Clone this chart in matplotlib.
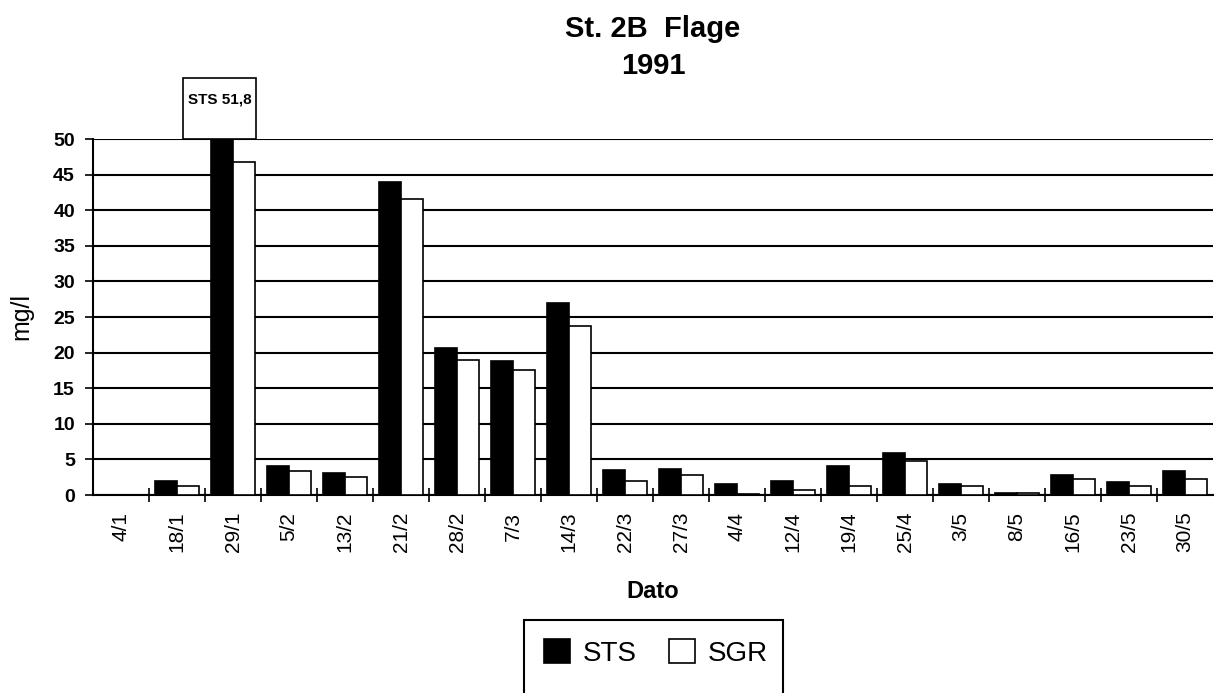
import matplotlib.pyplot as plt
import matplotlib.patches as mpatches
import numpy as np

plt.rcParams['font.family'] = ['Liberation Sans', 'DejaVu Sans']

dates = ['4/1', '18/1', '29/1', '5/2', '13/2', '21/2', '28/2', '7/3', '14/3', '22/3',
         '27/3', '4/4', '12/4', '19/4', '25/4', '3/5', '8/5', '16/5', '23/5', '30/5']
sts = [0.0, 1.9, 51.8, 4.1, 3.1, 44.0, 20.7, 18.8, 26.9, 3.5,
       3.7, 1.5, 2.0, 4.1, 5.9, 1.6, 0.3, 2.8, 1.8, 3.4]
sgr = [0.0, 1.3, 46.8, 3.4, 2.5, 41.6, 18.9, 17.5, 23.8, 2.0,
       2.8, 0.2, 0.7, 1.3, 4.8, 1.2, 0.3, 2.2, 1.3, 2.3]
yticks = [0, 5, 10, 15, 20, 25, 30, 35, 40, 45, 50]

W, H = 1216, 693
fig = plt.figure(figsize=(W / 100, H / 100), dpi=100)
ax = fig.add_axes([93 / W, 1 - 495 / H, 1120 / W, 356 / H])

x = np.arange(len(dates))
ax.bar(x - 0.2, sts, width=0.4, color='black', edgecolor='black', linewidth=1.2, label='STS', zorder=3)
ax.bar(x + 0.2, sgr, width=0.4, color='white', edgecolor='black', linewidth=1.2, label='SGR', zorder=3)

ax.set_xlim(-0.5, len(dates) - 0.5)
ax.set_ylim(0, 50)
ax.set_yticks(yticks)
ax.set_yticklabels([str(v) for v in yticks], fontsize=14, fontweight='bold')
ax.yaxis.grid(True, color='black', linewidth=1.5, zorder=0)
ax.set_axisbelow(True)

ax.set_xticks(x)
ax.set_xticklabels(dates, rotation=90, fontsize=15)
ax.set_xticks(np.arange(len(dates) - 1) + 0.5, minor=True)
ax.tick_params(axis='x', which='major', length=0, pad=12)
ax.tick_params(axis='x', which='minor', length=10, direction='inout', width=1.2)
ax.tick_params(axis='y', length=6, width=1.2, pad=7)

for s in ['top', 'right']:
    ax.spines[s].set_visible(False)
for s in ['left', 'bottom']:
    ax.spines[s].set_linewidth(1.5)

ax.set_ylabel('mg/l', fontsize=18, labelpad=14)
ax.set_xlabel('Dato', fontsize=17, fontweight='bold', labelpad=20)
ax.set_title('St. 2B  Flage\n1991', fontsize=21, fontweight='bold', pad=47, linespacing=1.4)

# box for the clipped bar value
ax.add_patch(mpatches.Rectangle((1.11, 50), 1.3, 8.6, facecolor='white', edgecolor='black',
                                linewidth=1.2, clip_on=False, zorder=4))
ax.text(1.77, 55.6, 'STS ' + f'{sts[2]:.1f}'.replace('.', ','), ha='center', va='center',
        fontsize=11, fontweight='bold', zorder=5)

# legend frame running off the bottom of the figure
fig.patches.append(mpatches.Rectangle((524 / W, -0.05), 259 / W, 0.05 + 1 - 620 / H,
                                      transform=fig.transFigure, facecolor='white',
                                      edgecolor='black', linewidth=1.5))
fig.legend(loc='center', bbox_to_anchor=(656 / W, 1 - 653 / H), ncol=2, frameon=False,
           fontsize=20, handlelength=0.95, handleheight=0.95, handletextpad=0.45,
           columnspacing=1.15)

fig.savefig('out.png', dpi=100)
